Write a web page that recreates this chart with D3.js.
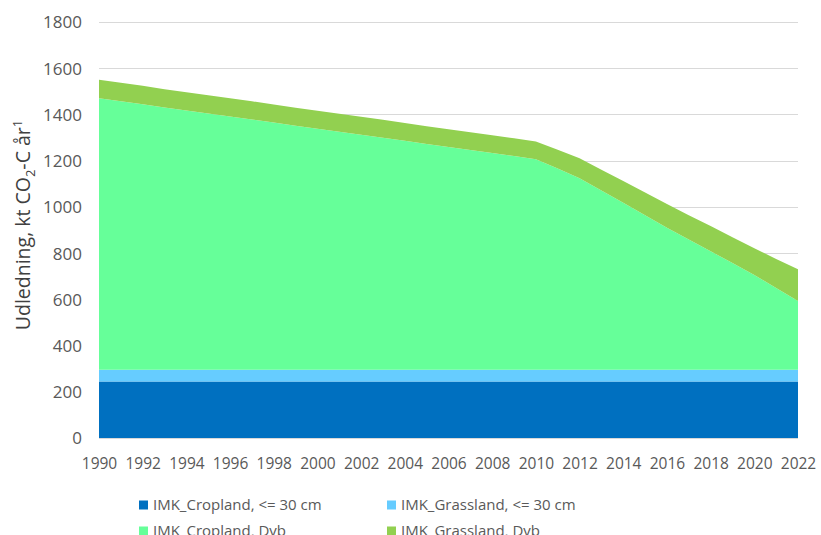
<!DOCTYPE html>
<html><head><meta charset="utf-8">
<script src="https://cdn.jsdelivr.net/npm/d3@7"></script>
<style>html,body{margin:0;padding:0;background:#fff;}svg{display:block;}</style>
</head><body>
<svg id="chart" width="821" height="535"></svg>
<script>
const years = d3.range(1990, 2023);
const seriesNames = ["IMK_Cropland, <= 30 cm", "IMK_Grassland, <= 30 cm", "IMK_Cropland, Dvb", "IMK_Grassland, Dvb"];
const seriesColors = ["#0070c0", "#66ccff", "#66ff99", "#92d050"];
const croplandShallow = [245,245,245,245,245,245,245,245,245,245,245,245,245,245,245,245,245,245,245,245,245,245,245,245,245,245,245,245,245,245,245,245,245];
const grasslandShallow = [50,50,50,50,50,50,50,50,50,50,50,50,50,50,50,50,50,50,50,50,50,50,50,50,50,50,50,50,50,50,50,50,50];
const croplandDvb = [1175,1162,1149,1135,1122,1109,1096,1083,1070,1056,1043,1030,1017,1004,991,977,964,951,938,925,911,871,829,776,723,669,615,564,513,462,410,354,298];
const grasslandDvb = [80,80,80,79,79,79,79,79,78,78,78,78,78,78,77,77,77,77,77,77,77,81,86,90,94,98,102,105,109,112,116,126,137];
const yTicks = [0,200,400,600,800,1000,1200,1400,1600,1800];
const xTicks = d3.range(1990, 2023, 2);

const svg = d3.select("#chart");
const m = {left: 99, right: 798, top: 22, bottom: 438};
const x = d3.scaleLinear().domain([1990, 2022]).range([m.left, m.right]);
const y = d3.scaleLinear().domain([0, 1800]).range([m.bottom, m.top]);

const table = years.map((yr, i) => ({year: yr, s0: croplandShallow[i], s1: grasslandShallow[i], s2: croplandDvb[i], s3: grasslandDvb[i]}));
const stack = d3.stack().keys(["s0","s1","s2","s3"]);
const layers = stack(table);

// gridlines
svg.append("g").selectAll("line").data(yTicks).join("line")
  .attr("x1", m.left).attr("x2", m.right)
  .attr("y1", d => Math.round(y(d)) + 0.5).attr("y2", d => Math.round(y(d)) + 0.5)
  .attr("stroke", "#d9d9d9").attr("stroke-width", 1);

const area = d3.area().x(d => x(d.data.year)).y0(d => y(d[0])).y1(d => y(d[1]));
svg.append("g").selectAll("path").data(layers).join("path")
  .attr("d", area).attr("fill", (d, i) => seriesColors[i]);

// y axis labels
const yAxis = d3.axisLeft(y).tickValues(yTicks).tickSize(0).tickPadding(0).tickFormat(d3.format("d"));
const gy = svg.append("g").attr("transform", `translate(82,0)`).call(yAxis);
gy.select(".domain").remove();
gy.selectAll("text").attr("font-family", "Open Sans, sans-serif").attr("font-size", 17).attr("fill", "#595959").attr("dy", "0.35em");

// x axis
const xAxis = d3.axisBottom(x).tickValues(xTicks).tickSize(0).tickPadding(0).tickFormat(d3.format("d"));
const gx = svg.append("g").attr("transform", `translate(0,${m.bottom + 26})`).call(xAxis);
gx.select(".domain").remove();
gx.selectAll("text").attr("font-family", "Open Sans, sans-serif").attr("font-size", 15.5).attr("fill", "#595959").attr("dy", "0.35em");

// y title
const t = svg.append("text").attr("transform", "translate(30,225) rotate(-90)")
  .attr("text-anchor", "middle").attr("font-family", "Open Sans, sans-serif").attr("font-size", 19.5).attr("fill", "#404040");
t.append("tspan").text("Udledning, kt CO");
t.append("tspan").text("2").attr("font-size", 13).attr("dy", 5);
t.append("tspan").text("-C år").attr("dy", -5);
t.append("tspan").text("1").attr("font-size", 13).attr("dy", -8);

// legend
const legPos = [[139, 505], [387, 505], [139, 531], [387, 531]];
const lg = svg.append("g").selectAll("g").data(seriesNames).join("g")
  .attr("transform", (d, i) => `translate(${legPos[i][0]},${legPos[i][1]})`);
lg.append("rect").attr("x", 0).attr("y", -4.5).attr("width", 9).attr("height", 9).attr("fill", (d, i) => seriesColors[i]);
lg.append("text").attr("x", 14).attr("dy", "0.35em").attr("font-family", "Open Sans, sans-serif").attr("font-size", 15).attr("fill", "#595959").text(d => d);
</script>
</body></html>
